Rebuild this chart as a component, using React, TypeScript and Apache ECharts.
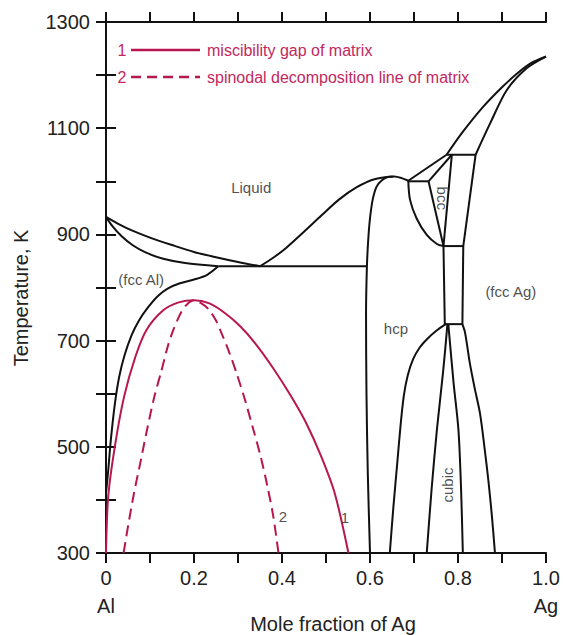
import React, { useEffect, useRef } from "react";
import * as echarts from "echarts";

// ---- axis ticks / labels ----
const xLabelTexts = ["0", "0.2", "0.4", "0.6", "0.8", "1.0"];
const xEndNames = ["Al", "Ag"];
const yLabelValues = [300, 500, 700, 900, 1100, 1300];

// ---- phase boundaries (mole fraction Ag, T in K) ----
const liquidusAl = [[0, 933], [0.03, 919], [0.06, 907], [0.1, 894], [0.15, 880], [0.2, 867], [0.25, 857], [0.3, 848], [0.35, 840]];
const solidusAl = [[0, 933], [0.015, 915], [0.035, 897], [0.06, 880], [0.09, 866], [0.13, 854], [0.18, 846], [0.255, 840]];
const solvusAl = [[0.255, 840], [0.23, 824], [0.2, 815], [0.168, 808], [0.14, 798], [0.118, 784], [0.095, 762], [0.075, 738], [0.058, 710], [0.042, 672], [0.03, 632], [0.02, 580], [0.011, 513], [0.005, 455], [0, 413]];
const eutecticLine = [[0.255, 840], [0.592, 840]];
const liquidusMid = [[0.35, 840], [0.38, 856], [0.41, 875], [0.45, 905], [0.49, 936], [0.53, 966], [0.57, 989], [0.61, 1004], [0.652, 1009]];
const hcpDome = [[0.687, 1001], [0.672, 1006], [0.655, 1009], [0.64, 1008], [0.627, 1002], [0.615, 990], [0.606, 965], [0.6, 930], [0.596, 890], [0.593, 840], [0.591, 750], [0.592, 600], [0.595, 450], [0.6, 300]];
const liquidusUpper = [[0.687, 1001], [0.774, 1050]];
const liquidusAg = [[0.774, 1050], [0.81, 1092], [0.857, 1140], [0.9, 1177], [0.933, 1202], [0.965, 1222], [1, 1235]];
const solidusAg = [[0.84, 1050], [0.873, 1109], [0.911, 1172], [0.956, 1213], [1, 1235]];
const peritectic1050 = [[0.774, 1050], [0.84, 1050]];
const peritectic1000 = [[0.687, 1000], [0.733, 1000]];
const bccTop = [[0.733, 1000], [0.786, 1050]];
const bccLeft = [[0.733, 1000], [0.767, 878]];
const bccRight = [[0.786, 1050], [0.767, 878]];
const hcpBcc = [[0.687, 1001], [0.691, 965], [0.706, 930], [0.729, 899], [0.752, 882], [0.767, 878]];
const fccAgUpper = [[0.84, 1050], [0.812, 878]];
const box878 = [[0.767, 878], [0.812, 878]];
const box731 = [[0.77, 731], [0.81, 731]];
const boxLeft = [[0.767, 878], [0.77, 731]];
const boxRight = [[0.812, 878], [0.81, 731]];
const hcpRight = [[0.772, 731], [0.75, 718], [0.73, 703], [0.713, 687], [0.698, 665], [0.686, 635], [0.677, 597], [0.67, 545], [0.662, 470], [0.653, 385], [0.645, 300]];
const cubicLeft = [[0.776, 731], [0.766, 640], [0.752, 532], [0.74, 420], [0.729, 300]];
const cubicRight = [[0.778, 731], [0.79, 620], [0.801, 532], [0.807, 420], [0.811, 300]];
const fccAgLower = [[0.81, 731], [0.816, 715], [0.827, 657], [0.838, 610], [0.85, 563], [0.86, 500], [0.869, 437], [0.877, 370], [0.884, 300]];

// ---- matrix miscibility gap (1) and spinodal (2) ----
const miscibilityGap = [[0, 300], [0.005, 406], [0.02, 500], [0.041, 594], [0.067, 670], [0.092, 720], [0.13, 757], [0.165, 772], [0.2, 776], [0.235, 770], [0.27, 752], [0.305, 727], [0.34, 694], [0.38, 648], [0.42, 596], [0.456, 543], [0.49, 480], [0.52, 412], [0.551, 300]];
const spinodal = [[0.04, 300], [0.05, 350], [0.063, 410], [0.078, 470], [0.094, 535], [0.11, 595], [0.125, 640], [0.14, 688], [0.152, 718], [0.17, 752], [0.185, 769], [0.2, 776], [0.215, 771], [0.232, 760], [0.25, 738], [0.262, 715], [0.28, 678], [0.297, 638], [0.316, 588], [0.335, 532], [0.352, 480], [0.367, 425], [0.38, 370], [0.392, 300]];

// ---- region labels ----
const regionLabels = [
  { name: "Liquid", value: [0.33, 989], rotate: 0 },
  { name: "(fcc Al)", value: [0.08, 816], rotate: 0 },
  { name: "hcp", value: [0.659, 722], rotate: 0 },
  { name: "(fcc Ag)", value: [0.92, 792], rotate: 0 },
  { name: "bcc", value: [0.764, 968], rotate: -90 },
  { name: "cubic", value: [0.777, 428], rotate: 90 },
  { name: "2", value: [0.402, 368], rotate: 0 },
  { name: "1", value: [0.543, 366], rotate: 0 },
];

const legendItems = ["miscibility gap of matrix", "spinodal decomposition line of matrix"];

const FONT = "'Liberation Sans', Arial, Helvetica, sans-serif";
const BLACK = "#111";
const RED = "#b8164f";
const RED_TEXT = "#c2285e";

export default function App() {
  const ref = useRef<HTMLDivElement>(null);
  useEffect(() => {
    document.body.style.margin = "0";
    const chart = echarts.init(ref.current!, null, { renderer: "svg" });

    const smoothCurves = [liquidusAl, solidusAl, solvusAl, liquidusMid, hcpDome, liquidusAg, solidusAg, hcpBcc, hcpRight, cubicLeft, cubicRight, fccAgLower];
    const straight = [eutecticLine, liquidusUpper, peritectic1050, peritectic1000, bccTop, bccLeft, bccRight, fccAgUpper, box878, box731, boxLeft, boxRight];

    const blackSeries: any[] = [
      ...smoothCurves.map((d) => ({ d, smooth: 0.3 })),
      ...straight.map((d) => ({ d, smooth: false })),
    ].map((s) => ({
      type: "line",
      data: s.d,
      smooth: s.smooth,
      symbol: "none",
      lineStyle: { color: BLACK, width: 2 },
      z: 3,
    }));

    const axisCommon = {
      type: "value",
      axisLine: { show: true, lineStyle: { color: BLACK, width: 2 } },
      axisTick: { show: true, inside: false, length: 10, lineStyle: { color: BLACK, width: 2 } },
      splitLine: { show: false },
    };

    const option: any = {
      animation: false,
      grid: { left: 106, right: 17, top: 22, bottom: 82, containLabel: false },
      xAxis: [
        {
          ...axisCommon,
          position: "bottom",
          min: 0,
          max: 1,
          interval: 0.1,
          axisLabel: {
            show: true,
            margin: 11,
            fontSize: 20,
            lineHeight: 28,
            color: "#222",
            fontFamily: FONT,
            showMinLabel: true,
            showMaxLabel: true,
            formatter: (v: number) => {
              const k = Math.round(v * 10);
              if (k % 2 !== 0) return "";
              const s = xLabelTexts[k / 2];
              if (k === 0) return s + "\n" + xEndNames[0];
              if (k === 10) return s + "\n" + xEndNames[1];
              return s;
            },
          },
        },
        {
          ...axisCommon,
          position: "top",
          min: 0,
          max: 1,
          interval: 0.1,
          axisLabel: { show: false },
        },
      ],
      yAxis: [
        {
          ...axisCommon,
          position: "left",
          min: 300,
          max: 1300,
          interval: 100,
          axisLabel: {
            show: true,
            margin: 16,
            fontSize: 20,
            color: "#222",
            fontFamily: FONT,
            formatter: (v: number) => (yLabelValues.indexOf(v) >= 0 ? String(v) : ""),
          },
        },
        {
          ...axisCommon,
          position: "right",
          min: 300,
          max: 1300,
          interval: 100,
          axisLabel: { show: false },
        },
      ],
      graphic: [
        {
          type: "text",
          x: 21,
          y: 298,
          rotation: Math.PI / 2,
          style: { text: "Temperature, K", fontSize: 20, fontFamily: FONT, fill: "#222", align: "center", verticalAlign: "middle" },
        },
        {
          type: "text",
          x: 333,
          y: 624,
          style: { text: "Mole fraction of Ag", fontSize: 20, fontFamily: FONT, fill: "#222", align: "center", verticalAlign: "middle" },
        },
        { type: "text", x: 122, y: 50, style: { text: "1", fontSize: 16, fontFamily: FONT, fill: RED_TEXT, align: "center", verticalAlign: "middle" } },
        { type: "line", shape: { x1: 131, y1: 50, x2: 200, y2: 50 }, style: { stroke: RED, lineWidth: 2.5 } },
        { type: "text", x: 207, y: 50, style: { text: legendItems[0], fontSize: 16, fontFamily: FONT, fill: RED_TEXT, align: "left", verticalAlign: "middle" } },
        { type: "text", x: 122, y: 77, style: { text: "2", fontSize: 16, fontFamily: FONT, fill: RED_TEXT, align: "center", verticalAlign: "middle" } },
        { type: "line", shape: { x1: 131, y1: 77, x2: 200, y2: 77 }, style: { stroke: RED, lineWidth: 2.5, lineDash: [10, 6] } },
        { type: "text", x: 207, y: 77, style: { text: legendItems[1], fontSize: 16, fontFamily: FONT, fill: RED_TEXT, align: "left", verticalAlign: "middle" } },
      ],
      series: [
        ...blackSeries,
        {
          type: "line",
          data: miscibilityGap,
          smooth: 0.3,
          symbol: "none",
          lineStyle: { color: RED, width: 2 },
          z: 4,
        },
        {
          type: "line",
          data: spinodal,
          smooth: 0.3,
          symbol: "none",
          lineStyle: { color: RED, width: 2, type: [11, 6] },
          z: 4,
        },
        {
          type: "scatter",
          data: regionLabels.map((r) => ({ name: r.name, value: r.value, label: { rotate: r.rotate } })),
          symbolSize: 1,
          itemStyle: { color: "rgba(0,0,0,0)" },
          label: {
            show: true,
            position: "inside",
            formatter: "{b}",
            fontSize: 15,
            fontFamily: FONT,
            color: "#222",
          },
          z: 5,
        },
      ],
    };

    chart.setOption(option);
    return () => chart.dispose();
  }, []);

  return <div ref={ref} style={{ width: 563, height: 635 }} />;
}
